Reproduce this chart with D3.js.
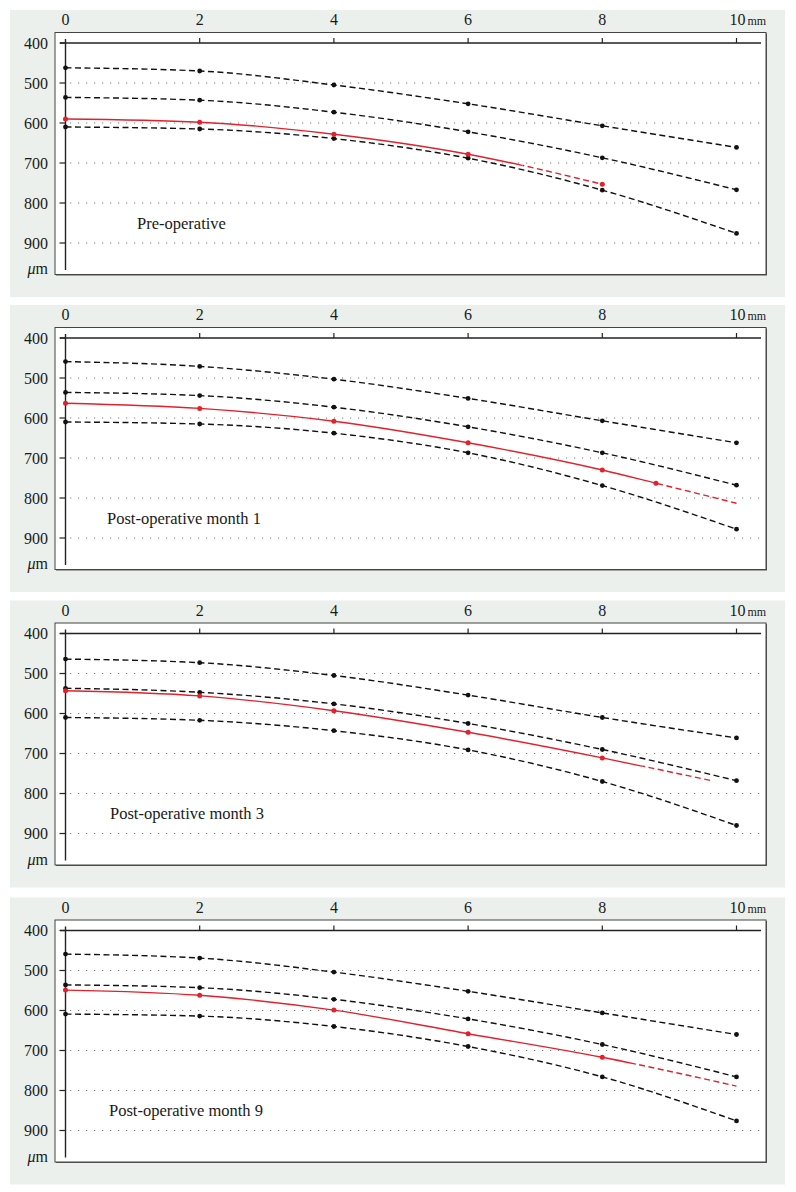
<!DOCTYPE html>
<html><head><meta charset="utf-8">
<script src="https://cdn.jsdelivr.net/npm/d3@7"></script>
<style>
html,body{margin:0;padding:0;background:#fff;}
svg{display:block;}
text{font-family:"Liberation Serif","DejaVu Serif",serif;fill:#1a1a1a;}
</style></head>
<body>
<svg id="chart" width="796" height="1192"></svg>
<script>
// ---- data ----
const xTicks = [0, 2, 4, 6, 8, 10];
const yTicks = [400, 500, 600, 700, 800, 900];
const panelTitles = ["Pre-operative", "Post-operative month 1", "Post-operative month 3", "Post-operative month 9"];
const normX = [0, 2, 4, 6, 8, 10];
const upperNorm = [
  [462, 470, 505, 552, 607, 661],
  [459, 471, 503, 551, 607, 662],
  [464, 473, 505, 554, 610, 661],
  [459, 469, 504, 552, 606, 660]
];
const middleNorm = [
  [536, 543, 573, 622, 687, 767],
  [536, 544, 573, 622, 687, 768],
  [537, 547, 576, 625, 690, 768],
  [536, 543, 572, 621, 685, 766]
];
const lowerNorm = [
  [610, 615, 639, 688, 768, 876],
  [610, 615, 638, 687, 769, 878],
  [610, 617, 643, 691, 770, 880],
  [609, 614, 640, 690, 766, 876]
];
const patientX = [
  [0, 2, 4, 6, 8],
  [0, 2, 4, 6, 8, 8.8],
  [0, 2, 4, 6, 8],
  [0, 2, 4, 6, 8]
];
const patientY = [
  [590, 598, 628, 678, 753],
  [563, 576, 608, 662, 730, 763],
  [543, 556, 593, 647, 711],
  [549, 562, 599, 658, 717]
];
const patientSolidEnd = [6.81, 8.8, 8.6, 8.5];
const patientTailX = [null, 10, 9.63, 10];
const patientTailY = [null, 813, 768, 789];

// ---- layout ----
const axisTop = [43, 338, 633.5, 930.5];
const titleX = [137, 107, 110, 109];
const svg = d3.select("#chart");
const x = d3.scaleLinear().domain([0, 10]).range([65.5, 736.5]);
const red = "#e3202b";

panelTitles.forEach((title, i) => {
  const y0 = axisTop[i];
  const y = d3.scaleLinear().domain([400, 900]).range([y0, y0 + 200]);
  const g = svg.append("g");

  g.append("rect").attr("x", 10).attr("y", y0 - 33).attr("width", 775).attr("height", 287).attr("fill", "#ecf0ed");
  g.append("rect").attr("x", 56).attr("y", y0 - 9.5).attr("width", 711).attr("height", 242).attr("fill", "#555");
  g.append("rect").attr("x", 55).attr("y", y0 - 10.5).attr("width", 711).attr("height", 242)
    .attr("fill", "#fff").attr("stroke", "#444").attr("stroke-width", 1);

  g.selectAll(".grid").data(yTicks.slice(1)).join("line")
    .attr("x1", 70).attr("x2", 761).attr("y1", d => y(d)).attr("y2", d => y(d))
    .attr("stroke", "#7a7a7a").attr("stroke-width", 1.1).attr("stroke-dasharray", "1.2,6.8");

  g.append("line").attr("x1", 60).attr("x2", 761).attr("y1", y(400)).attr("y2", y(400))
    .attr("stroke", "#222").attr("stroke-width", 1.3);
  g.selectAll(".xt").data(xTicks.slice(1)).join("line")
    .attr("x1", d => x(d)).attr("x2", d => x(d)).attr("y1", y(400) - 5).attr("y2", y(400))
    .attr("stroke", "#222").attr("stroke-width", 1.2);
  g.append("line").attr("x1", x(0)).attr("x2", x(0)).attr("y1", y(400) - 4).attr("y2", y0 + 227)
    .attr("stroke", "#222").attr("stroke-width", 1.4);
  g.selectAll(".yt").data(yTicks).join("line")
    .attr("x1", 59.5).attr("x2", x(0)).attr("y1", d => y(d)).attr("y2", d => y(d))
    .attr("stroke", "#222").attr("stroke-width", 1.2);

  g.selectAll(".xl").data(xTicks).join("text")
    .attr("x", d => d === 10 ? x(d) - 7 : x(d)).attr("y", y0 - 18)
    .attr("text-anchor", d => d === 10 ? "start" : "middle")
    .attr("font-size", 16)
    .each(function(d) {
      const t = d3.select(this);
      t.append("tspan").text(d);
      if (d === 10) t.append("tspan").attr("font-size", 12).attr("dx", 2).text("mm");
    });
  g.selectAll(".yl").data(yTicks).join("text")
    .attr("x", 48).attr("y", d => y(d)).attr("dy", "0.35em").attr("text-anchor", "end")
    .attr("font-size", 16).text(d => d);
  const um = g.append("text").attr("x", 48).attr("y", y0 + 231).attr("text-anchor", "end").attr("font-size", 16);
  um.append("tspan").attr("font-style", "italic").text("\u03bc");
  um.append("tspan").text("m");

  g.append("text").attr("x", titleX[i]).attr("y", y(850) + 5.5).attr("font-size", 16.5).text(title);

  const line = d3.line().x(d => x(d[0])).y(d => y(d[1])).curve(d3.curveMonotoneX);
  [upperNorm[i], middleNorm[i], lowerNorm[i]].forEach(vals => {
    const pts = normX.map((v, k) => [v, vals[k]]);
    g.append("path").attr("d", line(pts)).attr("fill", "none").attr("stroke", "#111")
      .attr("stroke-width", 1.4).attr("stroke-dasharray", "6,3.5");
    g.selectAll(null).data(pts).join("circle").attr("cx", d => x(d[0])).attr("cy", d => y(d[1]))
      .attr("r", 2.4).attr("fill", "#111");
  });

  const pPts = patientX[i].map((v, k) => [v, patientY[i][k]]);
  const all = patientTailX[i] !== null ? pPts.concat([[patientTailX[i], patientTailY[i]]]) : pPts;
  const xs = x(patientSolidEnd[i]);
  const cs = "clipS" + i, cd = "clipD" + i;
  const defs = g.append("defs");
  defs.append("clipPath").attr("id", cs).append("rect").attr("x", 0).attr("y", y0 - 20).attr("width", xs).attr("height", 260);
  defs.append("clipPath").attr("id", cd).append("rect").attr("x", xs).attr("y", y0 - 20).attr("width", 796 - xs).attr("height", 260);
  g.append("path").attr("d", line(all)).attr("fill", "none").attr("stroke", red)
    .attr("stroke-width", 1.4).attr("clip-path", `url(#${cs})`);
  g.append("path").attr("d", line(all)).attr("fill", "none").attr("stroke", red)
    .attr("stroke-width", 1.4).attr("stroke-dasharray", "6,3.5").attr("clip-path", `url(#${cd})`);
  g.selectAll(null).data(pPts).join("circle").attr("cx", d => x(d[0])).attr("cy", d => y(d[1]))
    .attr("r", 2.5).attr("fill", red);
});
</script>
</body></html>
